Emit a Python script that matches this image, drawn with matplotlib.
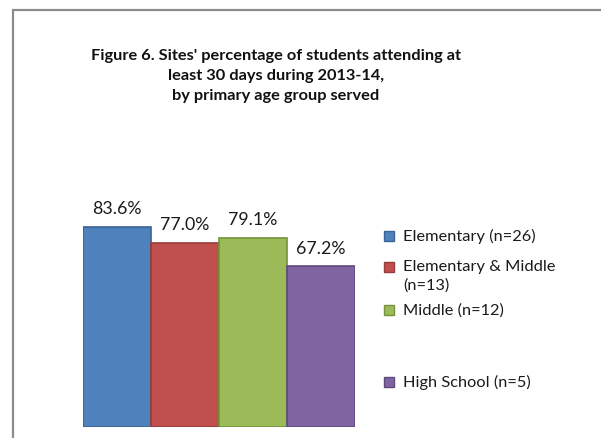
import matplotlib
matplotlib.use("Agg")
import matplotlib.pyplot as plt
from matplotlib.patches import Rectangle

categories = ["Elementary (n=26)", "Elementary & Middle\n(n=13)", "Middle (n=12)", "High School (n=5)"]
values = [83.6, 77.0, 79.1, 67.2]
fill_colors = ["#4F81BD", "#C0504D", "#9BBB59", "#8064A2"]
edge_colors = ["#3A6496", "#963C3A", "#76923C", "#5F4A7D"]
title = "Figure 6. Sites' percentage of students attending at\nleast 30 days during 2013-14,\nby primary age group served"

W, H = 601, 438
fig = plt.figure(figsize=(W / 100, H / 100), dpi=100)
fig.patch.set_facecolor("white")

# chart frame (left and top edges visible)
fig.patches.append(Rectangle((13 / W, -0.05), 1.2, 1 - 10 / H + 0.05,
                             transform=fig.transFigure, fill=False,
                             edgecolor="#8C8C8C", linewidth=1.6))

ax = fig.add_axes([83 / W, 1 - 427 / H, (355 - 83) / W, 239 / H])
x = range(len(values))
bars = ax.bar(x, values, width=1.0, color=fill_colors, edgecolor=edge_colors, linewidth=1.2)
ax.set_xlim(-0.5, len(values) - 0.5)
ax.set_ylim(0, 100)
ax.axis("off")

for xi, v in zip(x, values):
    ax.annotate(f"{v:.1f}%", (xi, v), xytext=(0, 7), textcoords="offset points",
                ha="center", va="bottom", fontsize=12.8, family="Lato", color="#1a1a1a")

fig.text(276 / W, 1 - 49 / H, title, ha="center", va="top", fontsize=11.8,
         fontweight="bold", family="Lato", linespacing=1.55, color="#111111")

# legend
legend_y = [236, 267, 310, 382]
for label, fc, ec, ly in zip(categories, fill_colors, edge_colors, legend_y):
    fig.patches.append(Rectangle((384 / W, 1 - (ly + 5) / H), 10 / W, 10 / H,
                                 transform=fig.transFigure, facecolor=fc,
                                 edgecolor=ec, linewidth=1))
    fig.text(403 / W, 1 - (ly - 7) / H, label, ha="left", va="top", fontsize=11.8,
             family="Lato", color="#1a1a1a", linespacing=1.35)

fig.savefig("out.png", dpi=100)
